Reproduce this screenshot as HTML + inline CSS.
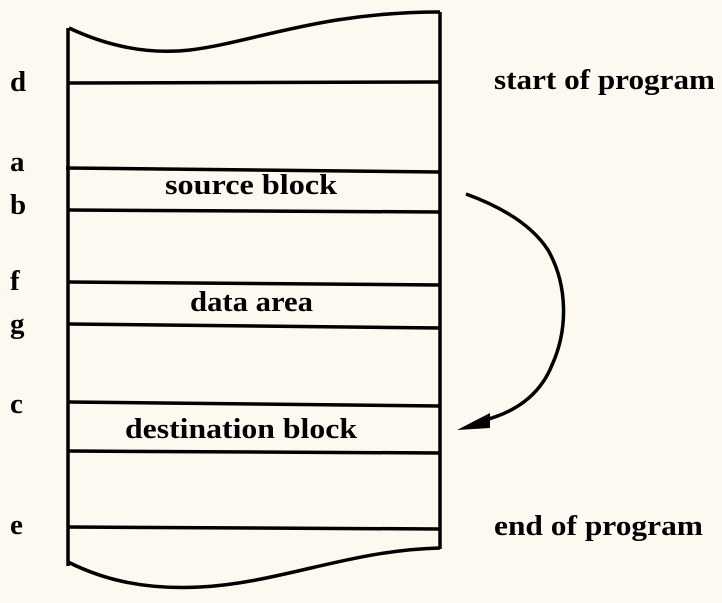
<!DOCTYPE html>
<html><head><style>
html,body{margin:0;padding:0;background:#fdf9f0;}
svg{display:block}
text{font-family:"Liberation Serif",serif;font-weight:bold;font-size:29px;fill:#000}
</style></head><body>
<svg width="722" height="603" viewBox="0 0 722 603">
<rect width="722" height="603" fill="#fdf9f0"/>
<g stroke="#000" stroke-width="3.5" fill="none">
<path d="M68 28 L68 566"/>
<path d="M440 12 L440 549"/>
<path d="M69 28 C105 45 145 55 190 50 C255 42 320 12 440 12"/>
<path d="M68 562 C100 578 140 590 200 587 C280 583 350 550 440 548"/>
<path d="M68 83 L440 82"/>
<path d="M66 168 L440 172"/>
<path d="M68 210 L440 212"/>
<path d="M68 282 L440 285"/>
<path d="M68 324 L440 328"/>
<path d="M68 402 L440 406"/>
<path d="M68 451 L440 453"/>
<path d="M68 527 L440 529"/>
<path d="M466 194 C510 210 535 230 548 250 C568 285 568 330 552 365 C540 395 515 412 485 420"/>
</g>
<polygon points="457,430 490,413 490,428" fill="#000"/>
<text x="10" y="91">d</text>
<text x="10" y="171">a</text>
<text x="10" y="214">b</text>
<text x="10" y="290">f</text>
<text x="10" y="333">g</text>
<text x="10" y="413">c</text>
<text x="10" y="534">e</text>
<text x="494" y="89" textLength="221" lengthAdjust="spacingAndGlyphs">start of program</text>
<text x="494" y="535" textLength="209" lengthAdjust="spacingAndGlyphs">end of program</text>
<text x="165" y="194" textLength="172" lengthAdjust="spacingAndGlyphs">source block</text>
<text x="190" y="311" textLength="123" lengthAdjust="spacingAndGlyphs">data area</text>
<text x="125" y="438" textLength="232" lengthAdjust="spacingAndGlyphs">destination block</text>
</svg>
</body></html>
